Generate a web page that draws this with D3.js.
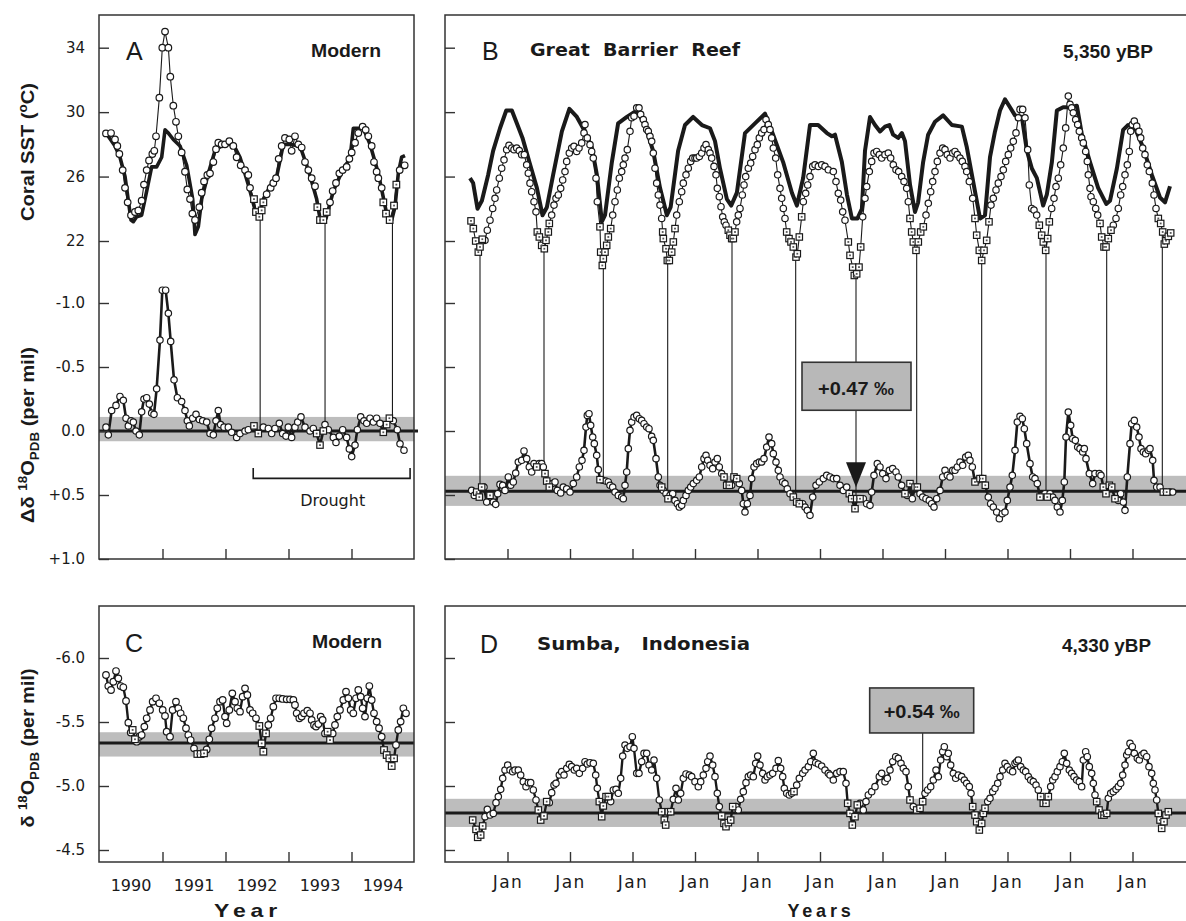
<!DOCTYPE html>
<html>
<head>
<meta charset="utf-8">
<script src="https://cdn.jsdelivr.net/npm/d3@7"></script>
<style>body{margin:0;background:#fff}</style>
</head>
<body>
<div id="chart"></div>
<script>
// ---- data (time in years from panel start; third item 1 = square marker) ----
// Panel A, modern coral: coral SST, instrumental SST, residual d18O
const coralSstA = [[0.103,28.68],[0.183,28.7],[0.246,28.3],[0.283,27.9],[0.315,27.4],[0.368,26.4],[0.405,25.3],[0.447,24.4],[0.500,23.6],[0.563,23.8],[0.616,23.9],[0.669,24.5],[0.706,25.5],[0.749,26.4],[0.786,27.0],[0.839,27.4],[0.870,27.6],[0.897,28.5],[0.950,30.9],[0.997,34.0],[1.040,35.0],[1.093,34.0],[1.124,32.2],[1.172,30.4],[1.214,29.4],[1.251,28.5],[1.304,27.5],[1.357,26.3],[1.394,25.2],[1.437,24.6],[1.474,23.7],[1.516,23.3],[1.585,24.1],[1.622,25.0],[1.659,25.7],[1.712,26.1],[1.754,26.2],[1.807,26.9],[1.849,27.7],[1.886,28.1],[1.939,28.0],[1.992,28.0],[2.061,28.2],[2.124,27.9],[2.177,27.2],[2.241,26.7],[2.310,26.4],[2.362,26.1],[2.389,25.3],[2.452,24.6,1],[2.484,23.8,1],[2.537,23.5,1],[2.574,23.9,1],[2.601,24.4,1],[2.653,24.9],[2.717,25.3],[2.759,25.6],[2.802,25.9],[2.844,27.1],[2.892,27.9],[2.944,28.4],[3.013,28.3],[3.050,27.6],[3.103,28.5],[3.156,28.0],[3.209,27.8],[3.262,26.9],[3.315,26.4],[3.368,25.9],[3.421,25.4],[3.458,24.1,1],[3.500,23.3,1],[3.553,23.3,1],[3.606,23.8,1],[3.659,24.4],[3.701,25.1],[3.754,25.6],[3.807,26.2],[3.860,26.4],[3.923,26.6],[3.966,27.1],[4.003,27.5],[4.056,28.1],[4.108,28.7],[4.177,29.1],[4.225,28.9],[4.267,28.5],[4.320,27.9],[4.357,26.9],[4.399,26.3],[4.426,25.9],[4.479,25.3],[4.505,24.4,1],[4.548,23.7,1],[4.606,23.3,1],[4.675,24.2,1],[4.712,25.5,1],[4.765,26.4],[4.844,26.7]];
const instSstA = [[0.103,28.7],[0.246,27.9],[0.325,27.2],[0.405,26.0],[0.500,23.3],[0.537,23.2],[0.590,23.5],[0.669,23.6],[0.749,25.1],[0.828,26.6],[0.907,26.6],[0.987,27.2],[1.040,28.9],[1.093,28.7],[1.172,28.3],[1.278,27.9],[1.384,26.7],[1.479,24.6],[1.516,22.4],[1.569,22.9],[1.622,24.6],[1.728,26.2],[1.833,27.6],[1.966,28.0],[2.124,28.0],[2.230,27.2],[2.362,25.5],[2.484,23.7],[2.537,23.6],[2.601,24.6],[2.706,25.4],[2.812,26.0],[2.918,28.0],[3.024,28.0],[3.183,27.9],[3.315,26.4],[3.447,24.6],[3.500,23.4],[3.595,23.4],[3.712,25.1],[3.870,26.5],[3.976,27.1],[4.029,29.0],[4.188,29.0],[4.294,28.0],[4.426,26.2],[4.558,23.7],[4.638,23.3],[4.690,24.1],[4.743,26.2],[4.796,27.2],[4.849,27.3]];
const deltaA = [[0.103,-0.03],[0.140,0.03],[0.193,-0.16],[0.262,-0.20],[0.325,-0.27],[0.378,-0.24],[0.421,-0.10],[0.458,-0.04],[0.500,-0.08],[0.537,-0.07],[0.579,0.0],[0.632,0.03],[0.669,-0.15],[0.706,-0.25],[0.749,-0.26],[0.791,-0.21],[0.828,-0.14],[0.865,-0.13],[0.907,-0.33],[0.960,-0.71],[0.997,-1.10],[1.050,-1.10],[1.093,-0.92],[1.130,-0.70],[1.183,-0.40],[1.236,-0.26],[1.304,-0.23],[1.357,-0.16],[1.394,-0.08],[1.426,-0.04],[1.479,-0.10],[1.532,-0.13],[1.585,-0.09],[1.638,-0.08],[1.701,-0.07],[1.754,0.02],[1.807,0.03],[1.849,-0.08],[1.886,-0.16],[1.923,-0.05],[1.976,-0.03],[2.045,-0.03],[2.098,0.01],[2.177,0.05],[2.230,0.02],[2.310,0.0],[2.362,-0.01],[2.452,-0.04,1],[2.521,0.02,1],[2.601,-0.03],[2.680,-0.02],[2.733,0.02],[2.786,-0.02],[2.854,-0.06],[2.907,0.02],[2.960,0.04],[2.997,-0.03],[3.050,0.05],[3.103,-0.03],[3.146,-0.07],[3.198,-0.11],[3.262,-0.03],[3.341,0.0],[3.394,-0.02],[3.447,0.02,1],[3.500,0.11,1],[3.553,0.0,1],[3.579,-0.05],[3.632,-0.01],[3.712,0.05],[3.754,0.09],[3.807,0.04],[3.860,-0.01],[3.923,0.05],[3.966,0.14],[4.003,0.20],[4.056,0.11],[4.093,-0.01],[4.146,-0.11],[4.198,-0.08],[4.241,-0.06],[4.294,-0.10],[4.347,-0.07],[4.399,-0.10],[4.452,-0.06],[4.505,0.01,1],[4.558,-0.05,1],[4.601,-0.10,1],[4.664,-0.08],[4.727,-0.01],[4.770,0.10],[4.833,0.15]];
const minimaA = [2.55, 3.58, 4.65];

// Panel B, Great Barrier Reef 5,350 yBP
const coralSstB = [[0.416,23.25,1],[0.453,22.77,1],[0.491,22.0,1],[0.533,21.31,1],[0.560,21.63,1],[0.597,22.11,1],[0.640,22.04],[0.677,22.67],[0.720,23.29],[0.763,24.02],[0.800,24.65],[0.827,25.17],[0.869,25.90],[0.907,26.52],[0.944,27.04],[0.987,27.67],[1.024,27.94],[1.067,27.77],[1.104,27.67],[1.147,27.77],[1.189,27.61],[1.227,27.36],[1.269,27.36],[1.307,26.73],[1.333,26.21],[1.360,25.59],[1.387,25.06],[1.424,24.44],[1.456,23.81],[1.477,22.56,1],[1.509,22.25,1],[1.547,21.73,1],[1.589,21.52,1],[1.616,22.04,1],[1.653,22.56,1],[1.669,23.09,1],[1.707,23.61],[1.744,24.23],[1.776,24.65],[1.813,24.86],[1.851,25.27],[1.883,25.79],[1.920,26.31],[1.947,26.94],[1.989,27.46],[2.027,27.77],[2.064,27.88],[2.107,27.56],[2.144,27.77],[2.187,28.09],[2.224,28.71],[2.240,29.23],[2.277,28.40],[2.320,27.98],[2.347,27.56],[2.373,27.15],[2.416,25.90],[2.437,24.44],[2.480,22.88,1],[2.491,21.31,1],[2.517,20.48,1],[2.533,20.90,1],[2.560,21.31,1],[2.587,21.73,1],[2.613,22.25,1],[2.651,22.77,1],[2.683,23.61],[2.720,24.44],[2.757,25.17],[2.789,25.90],[2.827,26.31],[2.853,26.73],[2.880,27.15],[2.917,27.67],[2.960,28.81],[2.987,29.65],[3.024,29.75],[3.067,30.27],[3.104,30.27],[3.131,29.86],[3.173,29.54],[3.200,29.23],[3.227,28.92],[3.253,28.81],[3.280,28.50],[3.307,28.19],[3.333,27.46],[3.360,26.52],[3.387,25.59],[3.413,24.86],[3.440,24.23],[3.467,23.40],[3.483,22.56,1],[3.493,22.15,1],[3.536,21.52,1],[3.557,20.79,1],[3.589,20.79,1],[3.627,21.31,1],[3.653,21.94,1],[3.680,22.77,1],[3.707,23.61],[3.749,24.44],[3.787,25.06],[3.813,25.59],[3.856,26.11],[3.893,26.52],[3.931,26.94],[3.963,27.15],[4.0,27.15],[4.027,27.15],[4.069,27.25],[4.107,27.46],[4.144,27.77],[4.176,27.98],[4.213,27.67],[4.240,27.46],[4.267,27.15],[4.304,26.63],[4.336,26.11],[4.357,25.27],[4.389,24.75],[4.416,24.13],[4.443,23.50],[4.469,23.19],[4.496,22.98],[4.533,22.67,1],[4.560,22.36,1],[4.587,22.15,1],[4.613,22.15,1],[4.640,22.56,1],[4.667,23.19],[4.693,23.61],[4.720,24.02],[4.757,24.86],[4.784,25.48],[4.811,26.0],[4.853,26.52],[4.891,26.84],[4.923,27.25],[4.960,27.67],[4.997,27.98],[5.029,28.40],[5.067,28.71],[5.104,28.92],[5.136,29.54],[5.173,29.23],[5.2,28.92],[5.227,28.40],[5.253,27.77],[5.291,27.15],[5.323,26.11],[5.360,25.27],[5.387,24.65],[5.413,24.02],[5.44,23.40],[5.467,22.56,1],[5.504,22.15,1],[5.536,21.94,1],[5.573,21.63,1],[5.616,21.0,1],[5.637,21.21,1],[5.669,22.25,1],[5.707,23.50,1],[5.733,24.44],[5.771,24.96],[5.803,25.48],[5.84,26.0],[5.883,26.63],[5.92,26.73],[5.973,26.63],[6.027,26.73],[6.08,26.63],[6.133,26.42],[6.213,26.31],[6.256,25.69],[6.293,24.96],[6.331,24.54],[6.363,23.81],[6.4,23.29],[6.453,21.94,1],[6.48,21.11,1],[6.523,20.38,1],[6.549,19.86,1],[6.587,19.96,1],[6.624,20.38,1],[6.651,21.63,1],[6.683,23.50],[6.72,24.65],[6.747,25.38],[6.789,26.31],[6.827,26.94],[6.864,27.46],[6.907,27.56],[6.949,27.36],[6.987,27.15],[7.04,27.36],[7.093,27.46],[7.131,27.15],[7.173,26.73],[7.216,26.42],[7.259,26.31],[7.307,26.0],[7.344,25.69],[7.387,25.27],[7.413,24.44],[7.44,23.40,1],[7.467,22.56,1],[7.493,21.94,1],[7.536,21.42,1],[7.573,21.94,1],[7.611,22.56,1],[7.653,22.88,1],[7.696,23.61],[7.733,24.34],[7.771,25.06],[7.803,25.69],[7.84,26.31],[7.877,26.94],[7.92,27.46],[7.963,27.77],[8.0,27.67],[8.037,27.36],[8.08,27.15],[8.123,27.46],[8.16,27.56],[8.197,27.36],[8.24,27.15],[8.277,26.94],[8.32,26.63],[8.347,26.31],[8.389,25.69],[8.443,24.65],[8.48,23.40,1],[8.507,22.36,1],[8.549,21.42,1],[8.587,20.79,1],[8.624,21.42,1],[8.667,22.04,1],[8.704,23.19,1],[8.736,24.23],[8.773,24.65],[8.816,25.17],[8.853,25.59],[8.896,26.0],[8.933,26.42],[8.971,26.94],[9.013,27.36],[9.051,27.77],[9.093,28.19],[9.136,28.71],[9.173,29.65],[9.2,30.17],[9.243,30.17],[9.28,29.65],[9.323,27.67],[9.349,25.48],[9.387,24.02],[9.424,23.92],[9.467,23.61],[9.509,22.98,1],[9.547,22.36,1],[9.573,21.94,1],[9.611,21.42,1],[9.643,22.15,1],[9.669,23.19,1],[9.707,24.02],[9.744,24.65],[9.776,25.38],[9.813,25.90],[9.851,26.73],[9.893,27.77],[9.931,29.02],[9.973,31.0],[10.0,30.48],[10.027,30.27],[10.053,29.96],[10.091,29.54],[10.123,29.23],[10.149,28.81],[10.187,28.40],[10.213,28.09],[10.251,27.56],[10.277,26.94],[10.293,26.11],[10.32,25.27],[10.336,24.75],[10.373,24.44],[10.411,24.02],[10.443,23.61],[10.48,23.09,1],[10.507,22.25,1],[10.544,21.63,1],[10.576,21.63,1],[10.613,22.15,1],[10.656,22.67,1],[10.693,22.98],[10.736,23.40],[10.773,24.02],[10.811,24.86],[10.843,25.38],[10.88,26.11],[10.917,26.73],[10.949,27.56],[10.971,28.81],[10.997,29.23],[11.029,29.44],[11.067,29.13],[11.104,28.81],[11.131,28.40],[11.163,27.77],[11.2,27.36],[11.237,26.73],[11.269,26.31],[11.317,25.59],[11.344,24.86],[11.376,24.02],[11.413,23.40,1],[11.451,23.09,1],[11.483,22.56,1],[11.509,21.81,1],[11.536,22.02,1],[11.573,22.29,1],[11.611,22.50,1]];
const instSstB = [[0.40,25.9],[0.45,25.6],[0.52,24.0],[0.59,24.5],[0.69,26.1],[0.77,27.6],[0.88,29.0],[0.98,30.1],[1.07,30.1],[1.16,29.2],[1.24,28.4],[1.35,26.9],[1.47,25.3],[1.56,23.6],[1.63,24.1],[1.73,26.1],[1.87,28.8],[1.99,30.2],[2.11,29.7],[2.21,29.0],[2.35,27.8],[2.43,26.1],[2.51,23.2],[2.56,23.6],[2.67,26.9],[2.77,29.3],[2.91,29.7],[3.07,30.1],[3.20,29.2],[3.33,27.6],[3.44,25.3],[3.55,23.6],[3.61,24.1],[3.73,27.6],[3.84,29.2],[3.97,29.7],[4.11,29.2],[4.24,29.0],[4.32,28.2],[4.40,26.5],[4.51,24.6],[4.58,24.2],[4.67,25.0],[4.80,28.7],[4.96,29.3],[5.12,29.9],[5.25,28.6],[5.41,26.9],[5.55,25.0],[5.63,24.2],[5.73,25.9],[5.84,29.2],[5.97,29.2],[6.11,28.7],[6.19,28.5],[6.24,28.6],[6.35,26.9],[6.43,24.9],[6.51,23.4],[6.60,23.4],[6.67,24.0],[6.72,27.6],[6.80,29.7],[6.88,29.2],[6.96,28.8],[7.04,29.1],[7.11,29.2],[7.17,28.6],[7.25,28.4],[7.31,28.7],[7.36,28.2],[7.44,25.5],[7.52,23.8],[7.57,24.4],[7.65,26.9],[7.73,28.6],[7.84,29.4],[7.97,29.8],[8.11,29.2],[8.27,29.1],[8.35,27.8],[8.45,25.7],[8.56,23.4],[8.64,23.6],[8.72,27.2],[8.80,28.8],[8.88,30.1],[8.96,30.8],[9.04,30.3],[9.12,29.8],[9.23,29.7],[9.31,27.6],[9.39,26.5],[9.47,25.9],[9.57,24.2],[9.63,24.9],[9.71,26.9],[9.79,30.1],[9.89,30.3],[10.0,30.3],[10.11,30.4],[10.19,28.6],[10.32,26.9],[10.45,25.3],[10.58,24.3],[10.64,24.5],[10.75,26.5],[10.85,28.9],[10.93,29.2],[11.04,29.0],[11.17,27.8],[11.31,26.1],[11.44,24.7],[11.52,24.4],[11.60,25.4]];
const deltaB = [[0.427,0.464],[0.469,0.503],[0.507,0.477,1],[0.549,0.516,1],[0.587,0.438,1],[0.624,0.438],[0.667,0.555],[0.72,0.503,1],[0.773,0.555],[0.811,0.573],[0.843,0.490],[0.88,0.417],[0.923,0.424],[0.96,0.464],[1.013,0.359],[1.051,0.424],[1.093,0.398],[1.131,0.328],[1.173,0.242],[1.227,0.229],[1.264,0.156],[1.307,0.216],[1.349,0.281],[1.387,0.320],[1.424,0.255],[1.467,0.281,1],[1.509,0.255],[1.547,0.255],[1.573,0.281],[1.6,0.333,1],[1.627,0.391,1],[1.669,0.438,1],[1.717,0.411],[1.76,0.398],[1.797,0.464],[1.851,0.484],[1.893,0.438],[1.947,0.451],[2.0,0.477],[2.053,0.411],[2.107,0.359],[2.149,0.281],[2.192,0.229],[2.224,0.151],[2.256,-0.031],[2.277,-0.122],[2.304,-0.135],[2.331,-0.044],[2.363,0.047],[2.389,0.099],[2.427,0.190],[2.453,0.302],[2.48,0.380,1],[2.523,0.385],[2.571,0.391],[2.613,0.398],[2.64,0.424],[2.683,0.438],[2.72,0.477],[2.773,0.503],[2.827,0.516],[2.853,0.529],[2.88,0.424],[2.907,0.320],[2.933,0.138],[2.96,-0.005],[2.987,-0.070],[3.024,-0.109],[3.067,-0.122],[3.109,-0.096],[3.147,-0.083],[3.184,-0.057],[3.227,-0.031],[3.264,-0.018],[3.307,0.042],[3.333,0.073],[3.376,0.216],[3.413,0.359],[3.44,0.424],[3.467,0.438,1],[3.493,0.464],[3.536,0.490],[3.568,0.529,1],[3.6,0.503],[3.643,0.490],[3.68,0.542],[3.717,0.568],[3.749,0.594],[3.787,0.581],[3.813,0.542],[3.856,0.503],[3.893,0.464],[3.931,0.438],[3.973,0.411],[4.027,0.385],[4.069,0.359],[4.107,0.281],[4.144,0.216],[4.176,0.190],[4.203,0.229],[4.24,0.268],[4.283,0.294],[4.32,0.242],[4.357,0.216],[4.389,0.281],[4.427,0.333],[4.464,0.359,1],[4.507,0.424,1],[4.549,0.424,1],[4.587,0.424],[4.624,0.359,1],[4.667,0.372,1],[4.709,0.411],[4.747,0.464],[4.773,0.568],[4.8,0.633],[4.837,0.568],[4.88,0.503],[4.907,0.372],[4.944,0.281],[4.987,0.255],[5.029,0.242],[5.067,0.242],[5.104,0.216],[5.147,0.125],[5.184,0.047],[5.227,0.099],[5.253,0.177],[5.296,0.242],[5.333,0.307],[5.36,0.359],[5.403,0.398],[5.44,0.411],[5.477,0.451],[5.52,0.490],[5.573,0.516,1],[5.627,0.555,1],[5.669,0.568,1],[5.723,0.568],[5.76,0.594],[5.797,0.620],[5.84,0.659],[5.883,0.516],[5.936,0.424],[5.989,0.398],[6.053,0.372],[6.107,0.346],[6.16,0.359],[6.213,0.372],[6.267,0.372],[6.32,0.424],[6.373,0.464],[6.427,0.438],[6.469,0.490,1],[6.507,0.529,1],[6.56,0.607,1],[6.587,0.529,1],[6.64,0.529,1],[6.693,0.529],[6.747,0.568],[6.8,0.581],[6.827,0.477],[6.864,0.346],[6.917,0.255],[6.96,0.281],[7.003,0.333],[7.056,0.372],[7.109,0.307],[7.163,0.294],[7.216,0.320],[7.253,0.359],[7.307,0.424],[7.36,0.490,1],[7.397,0.503],[7.44,0.411,1],[7.477,0.529],[7.52,0.438,1],[7.557,0.438,1],[7.6,0.490],[7.643,0.516],[7.696,0.529],[7.749,0.542],[7.787,0.568],[7.824,0.594],[7.867,0.529],[7.92,0.464],[7.963,0.359],[8.0,0.307],[8.037,0.346],[8.08,0.359],[8.123,0.307],[8.16,0.307],[8.197,0.281],[8.24,0.242],[8.283,0.268],[8.331,0.203],[8.373,0.190],[8.4,0.229],[8.437,0.281],[8.48,0.398,1],[8.517,0.385],[8.56,0.372,1],[8.603,0.372,1],[8.645,0.424,1],[8.693,0.516],[8.731,0.568],[8.773,0.594],[8.827,0.633],[8.869,0.685],[8.917,0.646],[8.96,0.633],[8.997,0.542],[9.04,0.438],[9.077,0.346],[9.12,0.151],[9.157,-0.070],[9.2,-0.115],[9.237,-0.096],[9.269,-0.018],[9.307,0.099],[9.36,0.255],[9.403,0.359],[9.44,0.372],[9.477,0.411],[9.52,0.516,1],[9.557,0.503],[9.6,0.490],[9.637,0.516,1],[9.68,0.490],[9.723,0.516],[9.76,0.542],[9.797,0.594],[9.84,0.633],[9.877,0.542],[9.909,0.398],[9.936,0.047],[9.973,-0.148],[10.011,-0.044],[10.043,0.060],[10.085,0.073],[10.123,0.125],[10.16,0.138],[10.203,0.164],[10.229,0.138],[10.256,0.216],[10.309,0.333],[10.363,0.411],[10.4,0.333],[10.469,0.333],[10.496,0.346],[10.533,0.438,1],[10.576,0.490,1],[10.629,0.424,1],[10.667,0.438,1],[10.72,0.529,1],[10.773,0.542],[10.811,0.490],[10.853,0.555],[10.88,0.620],[10.917,0.359],[10.96,0.099],[10.987,-0.057],[11.029,-0.083],[11.067,-0.031],[11.104,0.047],[11.136,0.138],[11.173,0.164],[11.211,0.177],[11.253,0.151],[11.28,0.138],[11.323,0.229],[11.344,0.385],[11.387,0.438],[11.44,0.438],[11.493,0.477,1],[11.547,0.477,1],[11.6,0.477],[11.643,0.477]];
const minimaB = [0.56, 1.584, 2.533, 3.563, 4.592, 5.611, 6.576, 7.547, 8.587, 9.616, 10.587, 11.477];

// Panel C, modern d18O
const isoC = [[0.103,-5.867],[0.140,-5.781],[0.183,-5.750],[0.220,-5.815],[0.262,-5.898],[0.299,-5.841],[0.336,-5.781],[0.378,-5.771],[0.421,-5.664],[0.458,-5.495],[0.495,-5.417],[0.526,-5.438,1],[0.563,-5.365,1],[0.590,-5.346],[0.632,-5.385],[0.669,-5.398],[0.712,-5.464],[0.749,-5.529],[0.802,-5.594],[0.844,-5.659],[0.897,-5.685],[0.950,-5.646],[1.003,-5.594],[1.040,-5.547],[1.066,-5.424],[1.119,-5.385],[1.161,-5.594],[1.214,-5.659],[1.251,-5.607],[1.288,-5.568],[1.331,-5.529],[1.373,-5.451],[1.410,-5.398],[1.447,-5.359],[1.500,-5.294],[1.553,-5.25,1],[1.606,-5.25,1],[1.659,-5.255,1],[1.701,-5.286],[1.743,-5.365],[1.780,-5.451],[1.833,-5.529],[1.870,-5.607],[1.913,-5.659],[1.955,-5.672],[1.992,-5.542],[2.019,-5.490],[2.061,-5.594],[2.108,-5.724],[2.151,-5.659],[2.188,-5.607],[2.230,-5.581],[2.272,-5.698],[2.310,-5.763],[2.347,-5.711],[2.389,-5.594],[2.431,-5.568],[2.484,-5.529],[2.537,-5.469,1],[2.574,-5.333,1],[2.601,-5.268,1],[2.643,-5.411,1],[2.680,-5.477],[2.717,-5.529],[2.759,-5.620],[2.802,-5.685],[2.854,-5.685],[2.907,-5.680],[2.971,-5.677],[3.024,-5.677],[3.077,-5.672],[3.103,-5.633],[3.130,-5.568],[3.172,-5.529],[3.209,-5.542],[3.246,-5.568],[3.299,-5.589],[3.341,-5.568],[3.368,-5.516],[3.405,-5.477],[3.437,-5.464],[3.474,-5.484],[3.511,-5.542],[3.542,-5.516],[3.579,-5.411],[3.621,-5.424,1],[3.659,-5.359,1],[3.701,-5.411],[3.738,-5.477],[3.775,-5.542],[3.817,-5.594],[3.870,-5.672],[3.913,-5.737],[3.950,-5.685],[3.987,-5.594],[4.029,-5.568],[4.071,-5.685],[4.108,-5.750],[4.146,-5.698],[4.177,-5.607],[4.214,-5.542],[4.251,-5.685],[4.283,-5.781],[4.320,-5.672],[4.357,-5.568],[4.399,-5.503],[4.437,-5.451],[4.479,-5.385],[4.516,-5.281,1],[4.558,-5.242,1],[4.601,-5.216,1],[4.638,-5.156,1],[4.675,-5.216,1],[4.706,-5.320],[4.743,-5.438],[4.780,-5.503],[4.823,-5.607],[4.865,-5.568]];

// Panel D, Sumba 4,330 yBP
const isoD = [[0.443,-4.734,1],[0.496,-4.661,1],[0.523,-4.599,1],[0.571,-4.617,1],[0.603,-4.688,1],[0.640,-4.760],[0.677,-4.818],[0.720,-4.773],[0.773,-4.786],[0.816,-4.870],[0.853,-4.917],[0.891,-4.974],[0.923,-5.060],[0.960,-5.125],[1.003,-5.164],[1.040,-5.125],[1.083,-5.112],[1.120,-5.125],[1.173,-5.125],[1.211,-5.086],[1.253,-5.034],[1.296,-4.995],[1.333,-5.026],[1.371,-5.026],[1.413,-4.969],[1.456,-4.891],[1.493,-4.813,1],[1.531,-4.734,1],[1.584,-4.766,1],[1.627,-4.878,1],[1.669,-4.870],[1.707,-4.948],[1.744,-5.008],[1.776,-5.021],[1.829,-5.086],[1.867,-5.112],[1.904,-5.086],[1.947,-5.138],[1.989,-5.169],[2.027,-5.151],[2.069,-5.125],[2.107,-5.138],[2.149,-5.099],[2.203,-5.138],[2.240,-5.190],[2.277,-5.172],[2.320,-5.182],[2.373,-5.177],[2.411,-5.086],[2.437,-4.982],[2.469,-4.878,1],[2.507,-4.760,1],[2.533,-4.844,1],[2.576,-4.917,1],[2.613,-4.917,1],[2.651,-4.878],[2.693,-4.969],[2.736,-4.974],[2.773,-4.943],[2.811,-5.060],[2.843,-5.234],[2.880,-5.320],[2.917,-5.294],[2.960,-5.307],[2.997,-5.385],[3.024,-5.294],[3.067,-5.099],[3.104,-5.099],[3.147,-5.190],[3.184,-5.255],[3.227,-5.255],[3.264,-5.164],[3.307,-5.125],[3.344,-5.203],[3.387,-5.060],[3.429,-4.891],[3.467,-4.799,1],[3.509,-4.734,1],[3.531,-4.695,1],[3.573,-4.799,1],[3.611,-4.799,1],[3.653,-4.896],[3.696,-4.982],[3.733,-4.891],[3.771,-4.943],[3.813,-5.060],[3.856,-5.094],[3.909,-5.086],[3.947,-5.073],[4.0,-5.034],[4.053,-4.995],[4.091,-5.034],[4.133,-5.086],[4.176,-5.138],[4.203,-5.190],[4.240,-5.234],[4.283,-5.164],[4.320,-5.073],[4.357,-4.943],[4.389,-4.839],[4.427,-4.766,1],[4.464,-4.708,1],[4.496,-4.682,1],[4.533,-4.714,1],[4.571,-4.734,1],[4.603,-4.839,1],[4.656,-4.839],[4.693,-4.813],[4.731,-4.896],[4.773,-4.956],[4.816,-5.026],[4.853,-5.073],[4.891,-5.086],[4.933,-5.073],[4.971,-5.177],[5.003,-5.234],[5.040,-5.164],[5.083,-5.099],[5.120,-5.047],[5.157,-5.073],[5.200,-5.086],[5.243,-5.099],[5.296,-5.138],[5.333,-5.198],[5.371,-5.138],[5.403,-5.073],[5.429,-4.982],[5.467,-4.943],[5.509,-4.930],[5.547,-4.943],[5.584,-4.956,1],[5.627,-5.008],[5.669,-5.060],[5.723,-5.099],[5.760,-5.125],[5.813,-5.151],[5.851,-5.190],[5.893,-5.255],[5.931,-5.182],[5.973,-5.172],[6.027,-5.156],[6.080,-5.125],[6.133,-5.099],[6.160,-5.086],[6.213,-5.047],[6.267,-5.099],[6.320,-5.112],[6.373,-5.112],[6.416,-5.021],[6.443,-4.865,1],[6.480,-4.786,1],[6.517,-4.695,1],[6.560,-4.760,1],[6.597,-4.852,1],[6.640,-4.865],[6.693,-4.813],[6.736,-4.878],[6.773,-4.930],[6.827,-4.956],[6.880,-4.995],[6.949,-5.073],[6.987,-5.099],[7.040,-5.034],[7.077,-5.060],[7.120,-5.125],[7.163,-5.190],[7.211,-5.229],[7.253,-5.216],[7.296,-5.177],[7.333,-5.138],[7.376,-5.112],[7.413,-4.995],[7.440,-4.891,1],[7.493,-4.839],[7.547,-4.813,1],[7.600,-4.826,1],[7.643,-4.878,1],[7.680,-4.943],[7.723,-4.969],[7.771,-4.995],[7.813,-5.047],[7.856,-5.125],[7.893,-5.073],[7.931,-5.203],[7.963,-5.268],[7.989,-5.307],[8.027,-5.229],[8.053,-5.255],[8.091,-5.164],[8.133,-5.099],[8.171,-5.060],[8.213,-5.086],[8.267,-5.073],[8.309,-5.047],[8.347,-5.021],[8.389,-4.995],[8.416,-4.943],[8.443,-4.839,1],[8.480,-4.773,1],[8.507,-4.721,1],[8.549,-4.656,1],[8.587,-4.708,1],[8.613,-4.786,1],[8.640,-4.826,1],[8.683,-4.878],[8.720,-4.904],[8.763,-4.956],[8.800,-4.982],[8.843,-5.021],[8.880,-5.073],[8.923,-5.125],[8.960,-5.177],[8.997,-5.151],[9.040,-5.125],[9.083,-5.112],[9.120,-5.177],[9.147,-5.190],[9.173,-5.203],[9.211,-5.151],[9.253,-5.125],[9.291,-5.112],[9.333,-5.073],[9.371,-5.047],[9.413,-5.034],[9.456,-5.008],[9.493,-4.969],[9.531,-4.917,1],[9.573,-4.865,1],[9.616,-4.865,1],[9.653,-4.917,1],[9.691,-4.995],[9.723,-5.047],[9.760,-5.073],[9.797,-5.112],[9.840,-5.151],[9.877,-5.190],[9.909,-5.255],[9.947,-5.177],[9.989,-5.125],[10.027,-5.099],[10.064,-5.073],[10.107,-5.047],[10.149,-5.034],[10.187,-4.995],[10.213,-5.203],[10.251,-5.268],[10.277,-5.229],[10.309,-5.151],[10.347,-5.099],[10.373,-5.021],[10.400,-4.930],[10.427,-4.878,1],[10.464,-4.813,1],[10.507,-4.773,1],[10.544,-4.773,1],[10.587,-4.786,1],[10.613,-4.904],[10.651,-4.943],[10.693,-4.956],[10.736,-4.974],[10.773,-4.995],[10.811,-5.021],[10.843,-5.086],[10.880,-5.164],[10.907,-5.242],[10.933,-5.268],[10.960,-5.333],[10.997,-5.307],[11.029,-5.255],[11.077,-5.216],[11.109,-5.203],[11.147,-5.242],[11.184,-5.255],[11.227,-5.229],[11.264,-5.151],[11.307,-5.099],[11.333,-5.021],[11.360,-4.969],[11.387,-4.891],[11.413,-4.786,1],[11.440,-4.734,1],[11.467,-4.669,1],[11.504,-4.721,1],[11.536,-4.773,1],[11.573,-4.799,1]];

// mean lines and +/- bands
const meanA = 0.0,    bandA = [-0.11, 0.08];
const meanB = 0.47,   bandB = [0.35, 0.585];
const meanC = -5.335, bandC = [-5.42, -5.23];
const meanD = -4.79,  bandD = [-4.90, -4.68];

// axis ticks
const sstTicks = [34, 30, 26, 22];
const delTicks = [-1, -0.5, 0, 0.5, 1];
const delLabels = ['-1.0', '-0.5', '0.0', '+0.5', '+1.0'];
const isoTicks = [-6, -5.5, -5, -4.5];
const isoLabels = ['-6.0', '-5.5', '-5.0', '-4.5'];
const yearTicks = [1, 2, 3, 4];
const yearLabels = ['1990', '1991', '1992', '1993', '1994'];
const janTicks = [1, 2, 3, 4, 5, 6, 7, 8, 9, 10, 11];

// annotations
const droughtSpan = [2.44, 4.93];
const offsetB = { t: 6.576, label: '+0.47 \u2030' };
const offsetD = { t: 7.643, label: '+0.54 \u2030' };

// ---- drawing ----
const width = 1186, height = 921;
const sans = "'Liberation Sans', Arial, Helvetica, sans-serif";
const wide = "'DejaVu Sans', Verdana, sans-serif";
const ink = '#1a1a1a';

const svg = d3.select('#chart').append('svg')
    .attr('width', width)
    .attr('height', height);
svg.append('rect').attr('width', width).attr('height', height).attr('fill', '#fff');

const xA = d3.scaleLinear().domain([0, 5]).range([99.5, 414.5]);
const xB = d3.scaleLinear().domain([0, 12]).range([445, 1195]);
const ySst = d3.scaleLinear().domain([22, 34]).range([241, 47.7]);
const yDel = d3.scaleLinear().domain([-1, 1]).range([303, 559]);
const yIso = d3.scaleLinear().domain([-6, -4.5]).range([658, 850]);

const panels = {
    A: { x: xA, left: 99, right: 414, top: 15, bottom: 559 },
    B: { x: xB, left: 445, right: 1195, top: 15, bottom: 559 },
    C: { x: xA, left: 99, right: 414, top: 606, bottom: 862 },
    D: { x: xB, left: 445, right: 1195, top: 606, bottom: 862 }
};

function interp(series, t) {
    const i = d3.bisector(d => d[0]).left(series, t);
    if (i <= 0) return series[0][1];
    if (i >= series.length) return series[series.length - 1][1];
    const a = series[i - 1], b = series[i];
    return a[1] + (b[1] - a[1]) * (t - a[0]) / (b[0] - a[0]);
}

function band(p, y, range, mean, extra) {
    svg.append('rect')
        .attr('x', p.left).attr('width', p.right - p.left)
        .attr('y', y(range[0])).attr('height', y(range[1]) - y(range[0]))
        .attr('fill', '#bdbdbd');
    svg.append('line')
        .attr('x1', p.left).attr('x2', p.right + (extra || 0))
        .attr('y1', y(mean)).attr('y2', y(mean))
        .attr('stroke', ink).attr('stroke-width', 3);
}

function thickLine(x, y, data, w) {
    svg.append('path')
        .datum(data)
        .attr('d', d3.line().x(d => x(d[0])).y(d => y(d[1])))
        .attr('fill', 'none')
        .attr('stroke', ink)
        .attr('stroke-width', w)
        .attr('stroke-linejoin', 'round');
}

function markers(x, y, data, r) {
    const g = svg.append('g');
    g.selectAll('circle')
        .data(data.filter(d => !d[2]))
        .join('circle')
        .attr('cx', d => x(d[0])).attr('cy', d => y(d[1])).attr('r', r)
        .attr('fill', '#fff').attr('stroke', ink).attr('stroke-width', 1.2);
    const sq = data.filter(d => d[2]);
    g.selectAll('rect.sq')
        .data(sq)
        .join('rect')
        .attr('class', 'sq')
        .attr('x', d => x(d[0]) - r).attr('y', d => y(d[1]) - r)
        .attr('width', 2 * r).attr('height', 2 * r)
        .attr('fill', '#fff').attr('stroke', ink).attr('stroke-width', 1.2);
    g.selectAll('rect.dot')
        .data(sq)
        .join('rect')
        .attr('class', 'dot')
        .attr('x', d => x(d[0]) - 0.9).attr('y', d => y(d[1]) - 0.9)
        .attr('width', 1.8).attr('height', 1.8)
        .attr('fill', '#555');
}

function series(x, y, data, w, r) {
    thickLine(x, y, data, w);
    markers(x, y, data, r);
}

function dropLines(x, tops, bottoms, minima) {
    minima.forEach(t => {
        svg.append('line')
            .attr('x1', x(t)).attr('x2', x(t))
            .attr('y1', ySst(interp(tops, t)))
            .attr('y2', yDel(interp(bottoms, t)))
            .attr('stroke', ink).attr('stroke-width', 1.1);
    });
}

function frame(p) {
    svg.append('rect')
        .attr('x', p.left).attr('y', p.top)
        .attr('width', p.right - p.left).attr('height', p.bottom - p.top)
        .attr('fill', 'none').attr('stroke', '#333').attr('stroke-width', 1.5);
}

function leftAxis(p, scale, values, labels) {
    const g = svg.append('g').attr('transform', `translate(${p.left},0)`);
    g.call(d3.axisLeft(scale).tickValues(values).tickSize(-10).tickPadding(14)
        .tickFormat((d, i) => labels ? labels[i] : ''));
    g.select('.domain').remove();
    g.selectAll('.tick line').attr('stroke', '#333').attr('stroke-width', 1.4);
    g.selectAll('.tick text').attr('font-family', wide).attr('font-size', 15).attr('fill', ink);
}

function bottomAxis(p, values, label) {
    const g = svg.append('g').attr('transform', `translate(0,${p.bottom})`);
    g.call(d3.axisBottom(p.x).tickValues(values).tickSize(-10).tickPadding(14)
        .tickFormat(() => label || ''));
    g.select('.domain').remove();
    g.selectAll('.tick line').attr('stroke', '#333').attr('stroke-width', 1.4);
    g.selectAll('.tick text').attr('font-family', wide).attr('font-size', 17)
        .attr('letter-spacing', 1.5).attr('fill', ink);
}

function label(x, y, str, size, weight, family, len) {
    const t = svg.append('text')
        .attr('x', x).attr('y', y)
        .attr('font-family', family || sans)
        .attr('font-size', size)
        .attr('font-weight', weight || 'normal')
        .attr('fill', ink)
        .style('white-space', 'pre')
        .text(str);
    if (len) t.attr('textLength', len).attr('lengthAdjust', 'spacingAndGlyphs');
    return t;
}

function yTitle(x, y, len, parts) {
    const t = svg.append('text')
        .attr('transform', `translate(${x},${y}) rotate(-90)`)
        .attr('text-anchor', 'middle')
        .attr('font-family', sans)
        .attr('font-weight', 'bold')
        .attr('font-size', 18)
        .attr('fill', ink)
        .attr('textLength', len)
        .attr('lengthAdjust', 'spacingAndGlyphs');
    let shift = 0;
    parts.forEach(([s, kind]) => {
        const want = kind === 'sup' ? -7 : kind === 'sub' ? 5 : 0;
        t.append('tspan')
            .attr('dy', want - shift)
            .attr('font-size', kind ? 12 : 18)
            .text(s);
        shift = want;
    });
}

// panel A
const pA = panels.A;
band(pA, yDel, bandA, meanA, 4);
thickLine(xA, ySst, instSstA, 3.6);
dropLines(xA, coralSstA, deltaA, minimaA);
series(xA, ySst, coralSstA, 1.1, 3.3);
series(xA, yDel, deltaA, 2.6, 3.2);
frame(pA);
leftAxis(pA, ySst, sstTicks, sstTicks.map(String));
leftAxis(pA, yDel, delTicks, delLabels);
bottomAxis(pA, yearTicks);

// drought bracket
svg.append('path')
    .attr('d', `M${xA(droughtSpan[0])},${yDel(0.29)}V${yDel(0.37)}H${xA(droughtSpan[1])}V${yDel(0.29)}`)
    .attr('fill', 'none').attr('stroke', ink).attr('stroke-width', 1.6);
label(xA((droughtSpan[0] + droughtSpan[1]) / 2) + 1, yDel(0.585), 'Drought', 16, 'normal', wide)
    .attr('text-anchor', 'middle');

// panel B
const pB = panels.B;
band(pB, yDel, bandB, meanB);
thickLine(xB, ySst, instSstB, 4);
dropLines(xB, coralSstB, deltaB, minimaB);
series(xB, ySst, coralSstB, 1.1, 3.2);
series(xB, yDel, deltaB, 2.6, 3.2);

// +0.47 box and arrow
const bx = xB(offsetB.t);
svg.append('rect')
    .attr('x', bx - 54).attr('y', yDel(-0.537)).attr('width', 109).attr('height', 48)
    .attr('fill', '#b8b8b8').attr('stroke', '#333').attr('stroke-width', 1.6);
label(bx, yDel(-0.28), offsetB.label, 19, 'bold', sans, 76).attr('text-anchor', 'middle');
svg.append('path')
    .attr('d', `M${bx - 10},${yDel(0.245)}L${bx + 10},${yDel(0.245)}L${bx},${yDel(0.44)}Z`)
    .attr('fill', ink);
frame(pB);
leftAxis(pB, ySst, sstTicks);
leftAxis(pB, yDel, delTicks);
bottomAxis(pB, janTicks);

// panel C
const pC = panels.C;
band(pC, yIso, bandC, meanC);
series(xA, yIso, isoC, 2.4, 3.3);
frame(pC);
leftAxis(pC, yIso, isoTicks, isoLabels);
bottomAxis(pC, yearTicks);
svg.append('g').selectAll('text')
    .data(yearLabels)
    .join('text')
    .attr('x', (d, i) => xA(i + 0.5))
    .attr('y', 891)
    .attr('text-anchor', 'middle')
    .attr('font-family', wide)
    .attr('font-size', 16)
    .attr('fill', ink)
    .text(d => d);

// panel D
const pD = panels.D;
band(pD, yIso, bandD, meanD);
const dx = xB(offsetD.t);
svg.append('line')
    .attr('x1', dx).attr('x2', dx)
    .attr('y1', yIso(-5.414)).attr('y2', yIso(interp(isoD, offsetD.t)))
    .attr('stroke', ink).attr('stroke-width', 1.1);
series(xB, yIso, isoD, 2.4, 3.2);
svg.append('rect')
    .attr('x', dx - 53).attr('y', yIso(-5.766)).attr('width', 104).attr('height', 45)
    .attr('fill', '#b8b8b8').attr('stroke', '#333').attr('stroke-width', 1.6);
label(dx - 1, yIso(-5.53), offsetD.label, 19, 'bold', sans, 76).attr('text-anchor', 'middle');
frame(pD);
leftAxis(pD, yIso, isoTicks);
bottomAxis(pD, janTicks, 'Jan');

// panel labels
label(126, 60, 'A', 25, 'normal');
label(311, 57, 'Modern', 19, 'bold', sans, 70);
label(482, 60, 'B', 25, 'normal');
label(530, 56, 'Great  Barrier  Reef', 18, 'bold', wide, 210);
label(1063, 58, '5,350 yBP', 19, 'bold', sans, 90);
label(125, 652, 'C', 25, 'normal');
label(312, 648, 'Modern', 19, 'bold', sans, 70);
label(480, 653, 'D', 25, 'normal');
label(537, 650, 'Sumba,   Indonesia', 18, 'bold', wide, 213);
label(1062, 652, '4,330 yBP', 19, 'bold', sans, 89);

// axis titles
yTitle(34, 152, 138, [['Coral SST (', ''], ['o', 'sup'], ['C)', '']]);
yTitle(34, 435, 176, [['\u0394\u03b4 ', ''], ['18', 'sup'], ['O', ''], ['PDB', 'sub'], [' (per mil)', '']]);
yTitle(34, 748, 159, [['\u03b4 ', ''], ['18', 'sup'], ['O', ''], ['PDB', 'sub'], [' (per mil)', '']]);
label(248, 917, 'Year', 19, 'bold', sans, 68).attr('text-anchor', 'middle').attr('letter-spacing', 4);
label(821, 917, 'Years', 19, 'bold', sans, 67).attr('text-anchor', 'middle').attr('letter-spacing', 4);
</script>
</body>
</html>
